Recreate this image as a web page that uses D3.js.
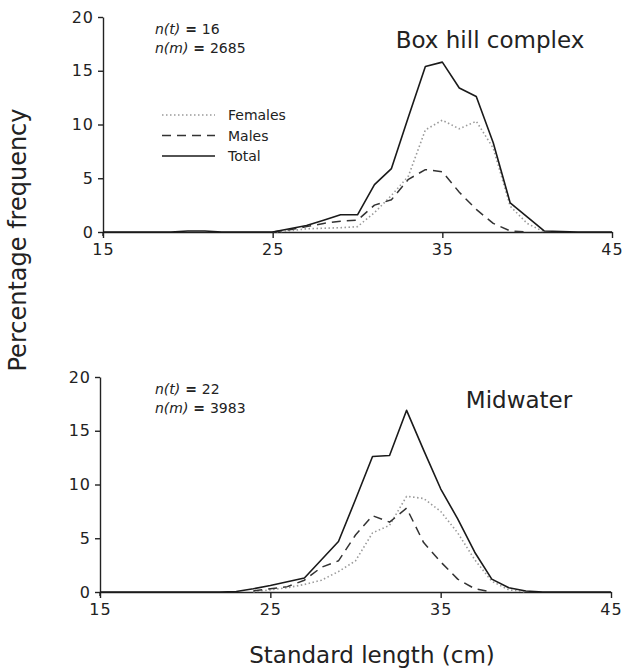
<!DOCTYPE html>
<html>
<head>
<meta charset="utf-8">
<script src="https://cdn.jsdelivr.net/npm/d3@7"></script>
<style>
body { margin: 0; background: #fff; }
svg text { font-family: 'DejaVu Sans', sans-serif; fill: #222; }
.axis path, .axis line { stroke: #222; stroke-width: 1.4; }
</style>
</head>
<body>
<div id="chart"></div>
<script>
// standard length classes (cm)
var lengths = [15, 16, 17, 18, 19, 20, 21, 22, 23, 24, 25, 26, 27, 28, 29, 30,
	31, 32, 33, 34, 35, 36, 37, 38, 39, 40, 41, 42, 43, 44, 45]
var xTicks = [15, 25, 35, 45]
var yTicks = [0, 5, 10, 15, 20]

// Box hill complex, % frequency per length class
var boxTotal = [0, 0, 0, 0, 0, 0.1, 0.1, 0, 0, 0, 0, 0.3, 0.6, 1.1, 1.6, 1.6,
	4.4, 5.9, 10.7, 15.4, 15.8, 13.4, 12.6, 8.3, 2.7, 1.4, 0.1, 0.05, 0, 0, 0]
var boxFemales = [null, null, null, null, null, null, null, null, null, null, 0, 0.1, 0.3, 0.35, 0.4, 0.5,
	1.8, 3.4, 5.2, 9.5, 10.4, 9.6, 10.3, 7.8, 2.4, 0.8, 0, null, null, null, null]
var boxMales = [null, null, null, null, null, null, null, null, null, null, 0, 0.2, 0.5, 0.8, 1.0, 1.1,
	2.5, 3.0, 4.9, 5.8, 5.6, 3.7, 2.1, 0.8, 0.1, 0, null, null, null, null, null]

// Midwater
var midTotal = [0, 0, 0, 0, 0, 0, 0, 0, 0.05, 0.3, 0.6, 0.95, 1.3, 3.0, 4.7, 8.6,
	12.6, 12.7, 16.9, 13.2, 9.6, 6.8, 3.7, 1.2, 0.4, 0.1, 0, 0, 0, 0, 0]
var midFemales = [null, null, null, null, null, null, null, null, null, 0, 0.2, 0.4, 0.7, 1.1, 1.9, 2.9,
	5.5, 6.2, 8.9, 8.7, 7.5, 5.5, 3.0, 1.0, 0.2, 0, null, null, null, null, null]
var midMales = [null, null, null, null, null, null, null, null, null, 0.1, 0.3, 0.5, 1.1, 2.3, 2.9, 5.3,
	7.1, 6.5, 7.8, 4.6, 2.8, 1.2, 0.3, 0, null, null, null, null, null, null, null]

var legendNames = ['Females', 'Males', 'Total']

var width = 624,
	height = 671

var svg = d3.select('#chart').append('svg')
	.attr('width', width)
	.attr('height', height)

var styles = {
	Females: {stroke: '#9a9a9a', dash: '1.5,2.5', width: 1.6},
	Males: {stroke: '#333', dash: '9,6', width: 1.5},
	Total: {stroke: '#1a1a1a', dash: null, width: 1.6}
}

var panels = [
	{title: 'Box hill complex', nt: '16', nm: '2685', left: 103, right: 612, top: 17, bottom: 232,
		titleX: 490, series: {Females: boxFemales, Males: boxMales, Total: boxTotal}, legend: true},
	{title: 'Midwater', nt: '22', nm: '3983', left: 100, right: 611, top: 377, bottom: 592,
		titleX: 519, series: {Females: midFemales, Males: midMales, Total: midTotal}, legend: false}
]

panels.forEach(function(p) {
	var x = d3.scaleLinear().domain([15, 45]).range([p.left, p.right])
	var y = d3.scaleLinear().domain([0, 20]).range([p.bottom, p.top])

	var g = svg.append('g')

	var yAxis = g.append('g')
		.attr('class', 'axis')
		.attr('transform', 'translate(' + p.left + ',0)')
		.call(d3.axisLeft(y).tickValues(yTicks).tickSize(5).tickSizeOuter(0).tickPadding(4))
	yAxis.selectAll('text').style('font-size', '16px').style('letter-spacing', '1px')
		.style('font-family', "'DejaVu Sans', sans-serif")
	// axis runs a little past the origin, as in the original
	g.append('line')
		.attr('x1', p.left).attr('x2', p.left)
		.attr('y1', p.bottom).attr('y2', p.bottom + 4)
		.attr('stroke', '#222').attr('stroke-width', 1.4)

	var xAxis = g.append('g')
		.attr('class', 'axis')
		.attr('transform', 'translate(0,' + p.bottom + ')')
		.call(d3.axisBottom(x).tickValues(xTicks).tickSize(6).tickSizeOuter(0).tickPadding(6))
	xAxis.selectAll('text').style('font-size', '16px').style('letter-spacing', '1px')
		.style('font-family', "'DejaVu Sans', sans-serif")

	var line = d3.line()
		.defined(function(d) { return d[1] != null })
		.x(function(d) { return x(d[0]) })
		.y(function(d) { return y(d[1]) })

	legendNames.forEach(function(name) {
		var s = styles[name]
		g.append('path')
			.datum(lengths.map(function(l, i) { return [l, p.series[name][i]] }))
			.attr('fill', 'none')
			.attr('stroke', s.stroke)
			.attr('stroke-width', s.width)
			.attr('stroke-dasharray', s.dash)
			.attr('stroke-linejoin', 'round')
			.attr('d', line)
	})

	g.append('text')
		.attr('x', p.titleX)
		.attr('y', p.top + 31)
		.attr('text-anchor', 'middle')
		.style('font-size', '23px')
		.text(p.title)

	var nt = g.append('text').attr('x', 155).attr('y', p.top + 17).style('font-size', '14px')
	nt.append('tspan').style('font-style', 'italic').text('n(t)')
	nt.append('tspan').style('font-weight', 'bold').text('  = ')
	nt.append('tspan').text(p.nt)
	var nm = g.append('text').attr('x', 155).attr('y', p.top + 36).style('font-size', '14px')
	nm.append('tspan').style('font-style', 'italic').text('n(m)')
	nm.append('tspan').style('font-weight', 'bold').text(' = ')
	nm.append('tspan').text(p.nm)

	if (p.legend) {
		legendNames.forEach(function(name, i) {
			var s = styles[name]
			var ly = 115 + i * 20.5
			g.append('line')
				.attr('x1', 162).attr('x2', 215)
				.attr('y1', ly).attr('y2', ly)
				.attr('stroke', s.stroke)
				.attr('stroke-width', s.width)
				.attr('stroke-dasharray', s.dash)
			g.append('text')
				.attr('x', 228)
				.attr('y', ly + 5)
				.style('font-size', '14px')
				.text(name)
		})
	}
})

svg.append('text')
	.attr('transform', 'translate(26,240) rotate(-90)')
	.attr('text-anchor', 'middle')
	.style('font-size', '24px')
	.text('Percentage frequency')

svg.append('text')
	.attr('x', 372)
	.attr('y', 663)
	.attr('text-anchor', 'middle')
	.style('font-size', '23px')
	.text('Standard length (cm)')
</script>
</body>
</html>
